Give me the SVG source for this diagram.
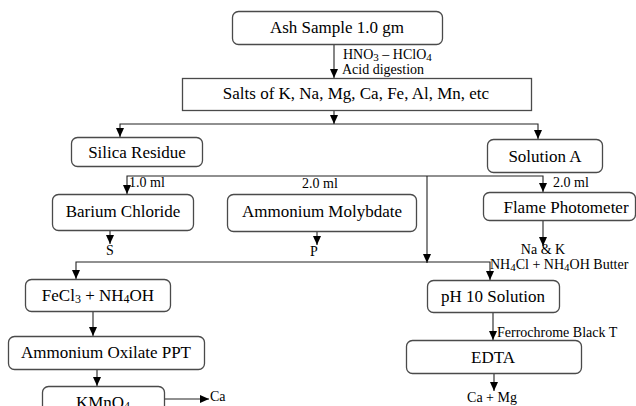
<svg xmlns="http://www.w3.org/2000/svg" width="636" height="406" viewBox="0 0 636 406" font-family="'Liberation Serif', 'Times New Roman', serif">
<style>
  .box { fill: #ffffff; stroke: #4a4a4a; stroke-width: 1.3; }
  .lbl { font-family: "Liberation Serif", "Times New Roman", serif; font-size: 17px; fill: #000; text-anchor: middle; }
  .sm { font-family: "Liberation Serif", "Times New Roman", serif; font-size: 14px; fill: #000; }
  .sub { font-size: 11px; }
  .cn { fill: none; stroke: #222; stroke-width: 1.1; }
</style>
<defs>
  <marker id="ah" markerUnits="userSpaceOnUse" markerWidth="9" markerHeight="9" refX="9" refY="4" orient="auto">
    <path d="M0,0 L9,4 L0,8 z" fill="#000"/>
  </marker>
</defs>
<rect width="636" height="406" fill="#ffffff"/>

<g id="connectors">
  <path class="cn" d="M334,45 V78" marker-end="url(#ah)"/>
  <path class="cn" d="M334,111 V124" marker-end="url(#ah)"/>
  <path class="cn" d="M334,124 H120 V137" marker-end="url(#ah)"/>
  <path class="cn" d="M334,124 H538 V139" marker-end="url(#ah)"/>
  <path class="cn" d="M427,176 H127 V194" marker-end="url(#ah)"/>
  <path class="cn" d="M427,176 H543 V192" marker-end="url(#ah)"/>
  <path class="cn" d="M427,176 V263" marker-end="url(#ah)"/>
  <path class="cn" d="M427,262 H76 V279" marker-end="url(#ah)"/>
  <path class="cn" d="M427,262 H490 V280" marker-end="url(#ah)"/>
  <path class="cn" d="M110,231 V244" marker-end="url(#ah)"/>
  <path class="cn" d="M317,232 V245" marker-end="url(#ah)"/>
  <path class="cn" d="M543,221 V246" marker-end="url(#ah)"/>
  <path class="cn" d="M93,312 V336" marker-end="url(#ah)"/>
  <path class="cn" d="M97,370 V386" marker-end="url(#ah)"/>
  <path class="cn" d="M164,399 H209" marker-end="url(#ah)"/>
  <path class="cn" d="M493,313 V340" marker-end="url(#ah)"/>
  <path class="cn" d="M494,374 V391" marker-end="url(#ah)"/>
</g>

<g id="edge-labels">
  <text class="sm" x="343" y="59">HNO<tspan class="sub" dy="2">3</tspan><tspan dy="-2"> – HClO</tspan><tspan class="sub" dy="2">4</tspan></text>
  <text class="sm" x="342" y="74">Acid digestion</text>
  <text class="sm" x="129" y="187">1.0 ml</text>
  <text class="sm" x="320" y="188" text-anchor="middle">2.0 ml</text>
  <text class="sm" x="553" y="187">2.0 ml</text>
  <text class="sm" x="110" y="255" text-anchor="middle">S</text>
  <text class="sm" x="314" y="256" text-anchor="middle">P</text>
  <text class="sm" x="543" y="254" text-anchor="middle">Na &amp; K</text>
  <text class="sm" x="490" y="269">NH<tspan class="sub" dy="2">4</tspan><tspan dy="-2">Cl + NH</tspan><tspan class="sub" dy="2">4</tspan><tspan dy="-2">OH Butter</tspan></text>
  <text class="sm" x="497" y="337">Ferrochrome Black T</text>
  <text class="sm" x="210" y="401">Ca</text>
  <text class="sm" x="492" y="402" text-anchor="middle">Ca + Mg</text>
</g>

<g id="ash">
  <rect class="box" x="232.5" y="11.5" width="210" height="33" rx="6"/>
  <text class="lbl" x="337" y="33">Ash Sample 1.0 gm</text>
</g>
<g id="salts">
  <rect class="box" x="182.5" y="78.5" width="349" height="32"/>
  <text class="lbl" x="356" y="99">Salts of K, Na, Mg, Ca, Fe, Al, Mn, etc</text>
</g>
<g id="silica">
  <rect class="box" x="71.5" y="137.5" width="131" height="29" rx="6"/>
  <text class="lbl" x="137" y="158">Silica Residue</text>
</g>
<g id="solutionA">
  <rect class="box" x="487.5" y="139.5" width="115" height="33" rx="6"/>
  <text class="lbl" x="545" y="162">Solution A</text>
</g>
<g id="barium">
  <rect class="box" x="52.5" y="194.5" width="141" height="36" rx="6"/>
  <text class="lbl" x="123" y="217">Barium Chloride</text>
</g>
<g id="molybdate">
  <rect class="box" x="227.5" y="194.5" width="189" height="37" rx="6"/>
  <text class="lbl" x="322" y="217">Ammonium Molybdate</text>
</g>
<g id="flame">
  <rect class="box" x="483.5" y="192.5" width="152" height="28" rx="6"/>
  <text class="lbl" x="566" y="213">Flame Photometer</text>
</g>
<g id="fecl3">
  <rect class="box" x="25.5" y="279.5" width="145" height="32" rx="6"/>
  <text class="lbl" x="98" y="301">FeCl<tspan font-size="12" dy="2">3</tspan><tspan dy="-2"> + NH</tspan><tspan font-size="12" dy="2">4</tspan><tspan dy="-2">OH</tspan></text>
</g>
<g id="ph10">
  <rect class="box" x="427.5" y="280.5" width="132" height="32" rx="6"/>
  <text class="lbl" x="493" y="302">pH 10 Solution</text>
</g>
<g id="oxilate">
  <rect class="box" x="8.5" y="336.5" width="196" height="33" rx="6"/>
  <text class="lbl" x="106" y="358">Ammonium Oxilate PPT</text>
</g>
<g id="edta">
  <rect class="box" x="406.5" y="340.5" width="175" height="33" rx="6"/>
  <text class="lbl" x="493" y="363">EDTA</text>
</g>
<g id="kmno4">
  <rect class="box" x="42.5" y="386.5" width="122" height="40" rx="6"/>
  <text class="lbl" x="103" y="408">KMnO<tspan font-size="12" dy="2">4</tspan></text>
</g>
</svg>
